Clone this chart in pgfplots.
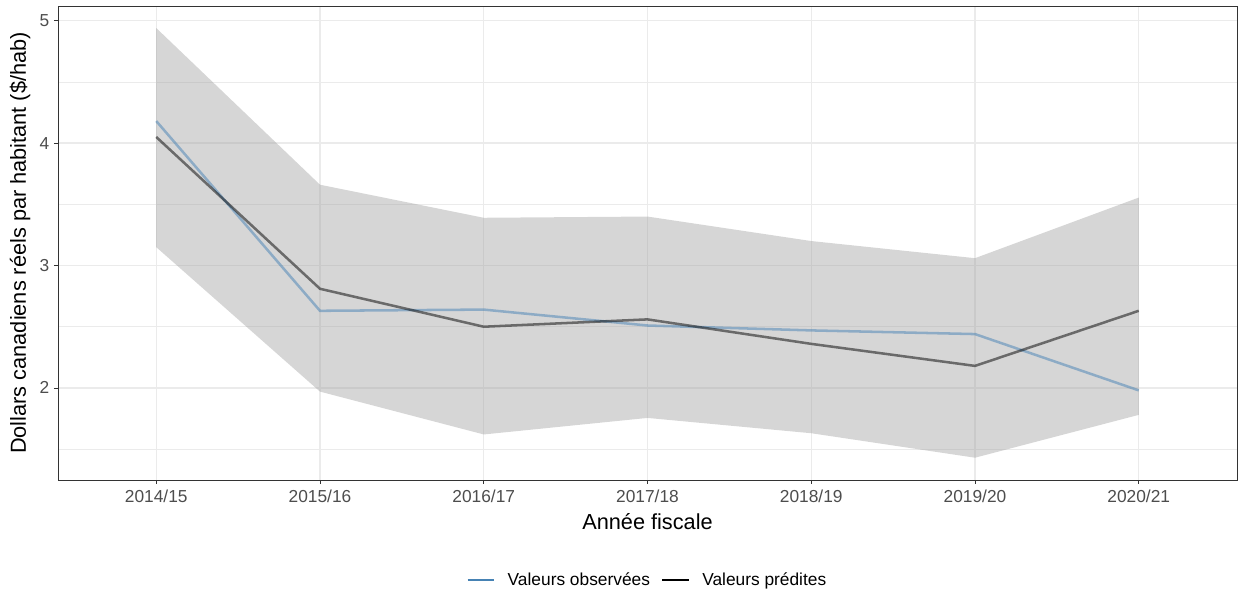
\documentclass[border=0pt]{standalone}
\usepackage{pgfplots}
\pgfplotsset{compat=1.18}
\usepackage{fontspec}
\setmainfont{Liberation Sans}
\definecolor{obs}{HTML}{4682B4}
\definecolor{ribbon}{HTML}{999999}
\definecolor{tickgrey}{HTML}{4D4D4D}
\definecolor{framegrey}{HTML}{333333}
\definecolor{gridgrey}{HTML}{EBEBEB}
\begin{document}
\begin{tikzpicture}
\useasboundingbox (-43.5pt,-84pt) rectangle (885.75pt,360pt);
\begin{axis}[
  at={(0,0)}, anchor=south west,
  scale only axis,
  width=884.25pt, height=355.5pt,
  xmin=-0.6, xmax=6.6,
  ymin=1.248, ymax=5.12,
  xtick={0,1,2,3,4,5,6},
  xticklabels={2014/15,2015/16,2016/17,2017/18,2018/19,2019/20,2020/21},
  ytick={2,3,4,5},
  minor ytick={1.5,2.5,3.5,4.5},
  minor xtick={},
  grid=both,
  major grid style={draw=gridgrey, line width=1pt},
  minor grid style={draw=gridgrey, line width=0.5pt},
  axis line style={draw=framegrey, line width=0.6pt},
  tick align=outside,
  major tick length=3pt,
  minor tick length=0pt,
  tick style={draw=framegrey, line width=0.6pt},
  xtick pos=bottom, ytick pos=left,
  /pgf/number format/assume math mode=true,
  ticklabel style={font=\fontsize{13}{15}\selectfont, text=tickgrey},
  xticklabel style={yshift=-1pt},
  every axis x label/.style={at={(axis description cs:0.5,0)}, yshift=-31.5pt, anchor=center, font=\fontsize{16.3}{19}\selectfont},
  every axis y label/.style={at={(axis description cs:0,0.5)}, xshift=-28.5pt, rotate=90, anchor=center, font=\fontsize{16.3}{19}\selectfont},
  xlabel={Année fiscale},
  ylabel={Dollars canadiens réels par habitant (\$/hab)},
  legend style={at={(axis description cs:0.5,0)}, yshift=-75pt, anchor=center, draw=none, fill=none,
    legend columns=2, font=\fontsize{13}{15}\selectfont,
    /tikz/every odd column/.append style={column sep=7pt},
    /tikz/every even column/.append style={column sep=6pt}},
  legend image code/.code={\draw[#1] (0pt,0pt) -- (20pt,0pt);},
]
\addplot[draw=none, fill=ribbon, fill opacity=0.4, forget plot] coordinates {
  (0,4.94) (1,3.66) (2,3.39) (3,3.40) (4,3.20) (5,3.06) (6,3.555)
  (6,1.78) (5,1.43) (4,1.63) (3,1.755) (2,1.62) (1,1.97) (0,3.15)
} -- cycle;
\addplot[draw=obs, draw opacity=0.5, line width=1.9pt, forget plot] coordinates {
  (0,4.18) (1,2.63) (2,2.64) (3,2.51) (4,2.47) (5,2.44) (6,1.98)
};
\addplot[draw=black, draw opacity=0.5, line width=1.9pt, forget plot] coordinates {
  (0,4.05) (1,2.81) (2,2.50) (3,2.56) (4,2.36) (5,2.18) (6,2.63)
};
\addlegendimage{draw=obs, line width=2.2pt}
\addlegendentry{Valeurs observées}
\addlegendimage{draw=black, line width=2.2pt}
\addlegendentry{Valeurs prédites}
\end{axis}
\end{tikzpicture}
\end{document}
